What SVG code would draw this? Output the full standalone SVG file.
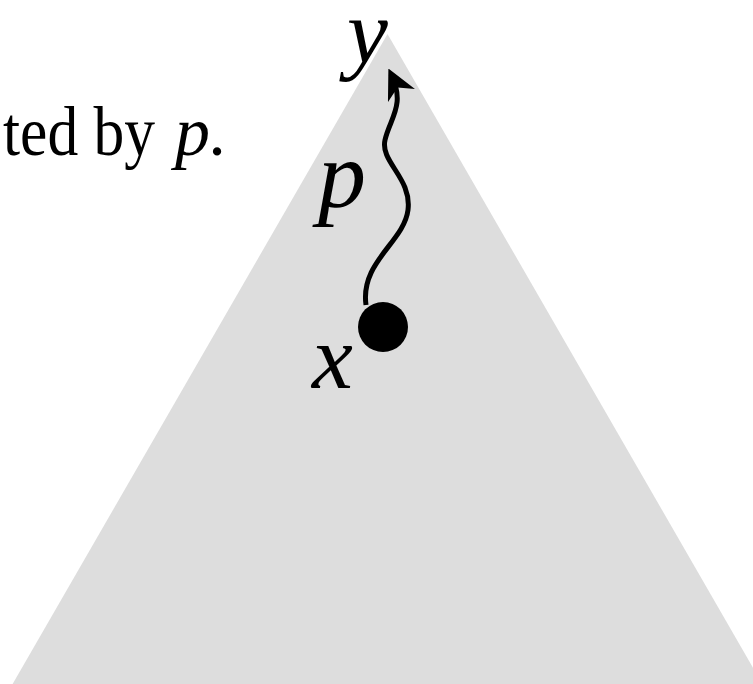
<svg xmlns="http://www.w3.org/2000/svg" width="753" height="684" viewBox="0 0 753 684">
<style>
.lbl{font-family:"Liberation Serif",serif;font-style:italic;fill:#000}
.txt{font-family:"Liberation Serif",serif;fill:#000;font-size:70px}
</style>
<defs>
<marker id="ah" viewBox="0 0 10 10" refX="8" refY="5" markerWidth="6" markerHeight="6" orient="auto" markerUnits="strokeWidth">
<path d="M0,0 L10,5 L0,10 L3,5 Z" fill="#000"/>
</marker>
</defs>
<rect width="753" height="684" fill="#fff"/>
<g id="tree"><polygon points="387.5,34 -7,718 782,718" fill="#dddddd"/></g>
<g id="caption">
<text class="txt" x="3" y="155" textLength="152" lengthAdjust="spacingAndGlyphs">ted by</text>
<text class="txt" x="175" y="155" font-style="italic">p.</text>
</g>
<g id="connectors">
<path d="M366 305 C360 262,404 242,408 210 C412 178,380 162,385 140 C390 118,406 105,391 74" fill="none" stroke="#000" stroke-width="5" marker-end="url(#ah)"/>
</g>
<g id="node-x"><circle cx="383" cy="327" r="25" fill="#000"/><text class="lbl" x="312" y="388" font-size="92">x</text></g>
<g id="node-y"><text class="lbl" x="347" y="63" font-size="92">y</text></g>
<text class="lbl" x="318" y="207" font-size="96">p</text>
</svg>
